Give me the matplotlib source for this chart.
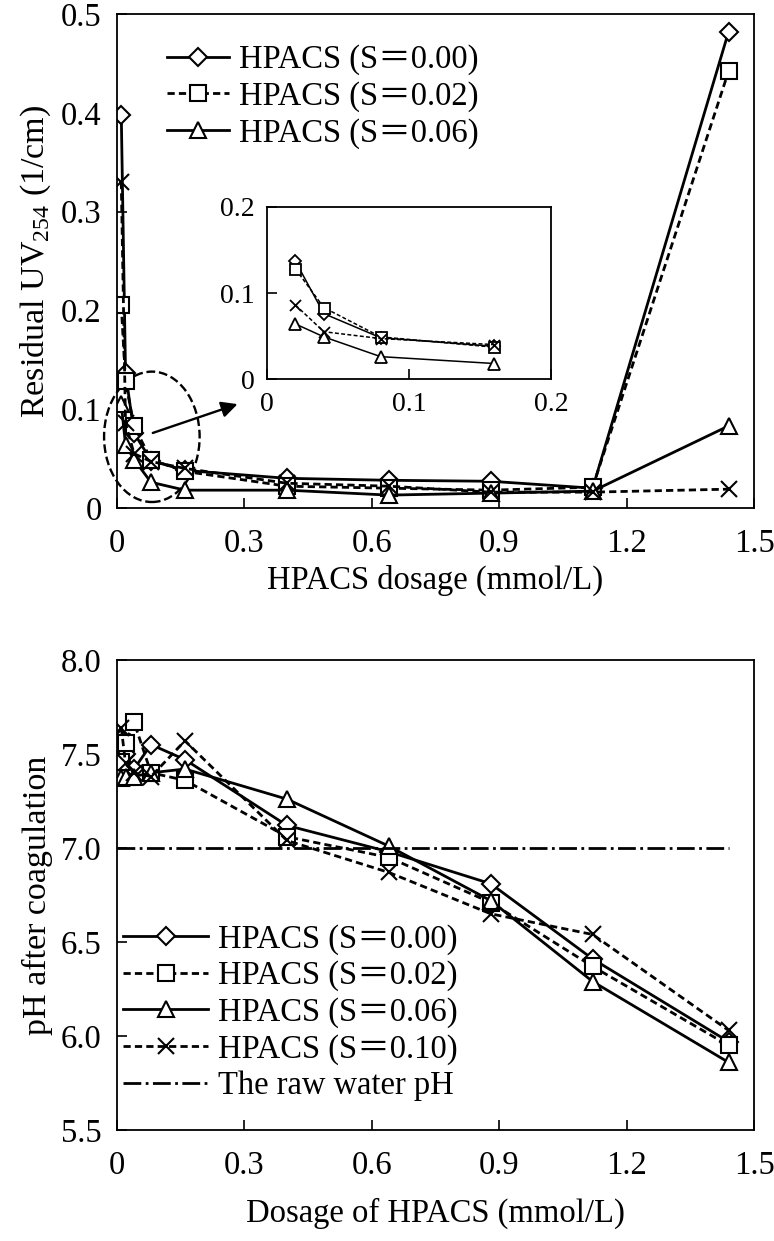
import matplotlib
matplotlib.use("Agg")
import matplotlib.pyplot as plt
from matplotlib.patches import Ellipse

# fonts: Times-like serif, CJK family only as fallback for the full-width "＝"
plt.rcParams['font.family'] = ['Liberation Serif', 'Noto Sans CJK JP']
plt.rcParams['mathtext.fontset'] = 'custom'
plt.rcParams['mathtext.rm'] = 'Liberation Serif'
plt.rcParams['font.size'] = 22

### data
dosage = [0.01, 0.02, 0.04, 0.08, 0.16, 0.40, 0.64, 0.88, 1.12, 1.44]  # mmol/L

# residual UV254 (1/cm)
uv_s000 = [0.398, 0.137, 0.076, 0.048, 0.038, 0.030, 0.028, 0.027, 0.020, 0.482]
uv_s002 = [0.205, 0.128, 0.083, 0.049, 0.037, 0.022, 0.020, 0.018, 0.021, 0.442]
uv_s006 = [0.105, 0.064, 0.049, 0.026, 0.018, 0.018, 0.013, 0.015, 0.017, 0.083]
uv_s010 = [0.330, 0.086, 0.055, 0.047, 0.040, 0.025, 0.022, 0.016, 0.016, 0.019]

# pH after coagulation
ph_s000 = [7.58, 7.50, 7.42, 7.55, 7.47, 7.12, 6.98, 6.81, 6.41, 5.97]
ph_s002 = [7.46, 7.56, 7.67, 7.40, 7.36, 7.06, 6.95, 6.71, 6.37, 5.95]
ph_s006 = [7.37, 7.38, 7.38, 7.40, 7.42, 7.26, 7.01, 6.72, 6.29, 5.86]
ph_s010 = [7.64, 7.45, 7.40, 7.38, 7.57, 7.04, 6.87, 6.65, 6.54, 6.03]
raw_x = [0.0, 1.44]
raw_ph = [7.0, 7.0]

labels = ["HPACS (S＝0.00)", "HPACS (S＝0.02)", "HPACS (S＝0.06)", "HPACS (S＝0.10)"]
raw_label = "The raw water pH"

x_ticks = [0, 0.3, 0.6, 0.9, 1.2, 1.5]
x_ticklabels = ["0", "0.3", "0.6", "0.9", "1.2", "1.5"]
uv_ticks = [0, 0.1, 0.2, 0.3, 0.4, 0.5]
uv_ticklabels = ["0", "0.1", "0.2", "0.3", "0.4", "0.5"]
ph_ticks = [5.5, 6.0, 6.5, 7.0, 7.5, 8.0]
ph_ticklabels = ["5.5", "6.0", "6.5", "7.0", "7.5", "8.0"]
inset_ticks = [0, 0.1, 0.2]
inset_ticklabels = ["0", "0.1", "0.2"]

### styles
dash = (2.6, 1.5)
styles = [dict(ls='-', marker='D', ms=9),
          dict(ls='--', dashes=dash, marker='s', ms=11),
          dict(ls='-', marker='^', ms=12),
          dict(ls='--', dashes=dash, marker='x', ms=11)]


def style_axes(ax, size=23.5, xpad=15, ypad=11):
    ax.tick_params(direction='in', length=7, width=1.2, labelsize=size,
                   top=False, right=False)
    ax.tick_params(axis='x', pad=xpad)
    ax.tick_params(axis='y', pad=ypad)
    for sp in ax.spines.values():
        sp.set_linewidth(1.3)


fig = plt.figure(figsize=(7.74, 12.41), dpi=100)

# ---------- top: residual UV254 ----------
ax1 = fig.add_axes([0.1512, 0.5907, 0.823, 0.398])
uv_all = [uv_s000, uv_s002, uv_s006, uv_s010]
for i, (yy, st) in enumerate(zip(uv_all, styles)):
    ax1.plot(dosage, yy, color='k', lw=2.0, mfc='white', mec='k', mew=1.5,
             label=labels[i] if i < 3 else None, **st)
ax1.set_xlim(0, 1.5)
ax1.set_ylim(0, 0.5)
ax1.set_xticks(x_ticks, x_ticklabels)
ax1.set_yticks(uv_ticks, uv_ticklabels)
style_axes(ax1)
ax1.set_xlabel("HPACS dosage (mmol/L)", fontsize=23.5, labelpad=4)
ax1.set_ylabel(r"Residual UV$_{\mathregular{254}}$ (1/cm)", fontsize=24.5, labelpad=6)
ax1.legend(loc='upper left', bbox_to_anchor=(0.074, 0.945), frameon=False,
           fontsize=23.5, handlelength=1.9, handletextpad=0.3, labelspacing=0.18,
           borderaxespad=0, borderpad=0.1)

# dashed ellipse around the low-dosage cluster and the arrow to the inset
ax1.add_patch(Ellipse((0.082, 0.072), 0.225, 0.132, fill=False, ls='--',
                      lw=1.7, ec='k', clip_on=False))
ax1.annotate('', xy=(0.29, 0.106), xytext=(0.078, 0.075),
             arrowprops=dict(arrowstyle='-|>', color='k', lw=1.7, mutation_scale=24))

# inset
axi = fig.add_axes([0.345, 0.6946, 0.367, 0.1386])
for yy, st in zip(uv_all, styles):
    st_i = dict(st)
    st_i['ms'] = st['ms'] * 0.72
    axi.plot(dosage[1:5], yy[1:5], color='k', lw=1.1, mfc='white', mec='k', mew=1.3, **st_i)
axi.set_xlim(0, 0.2)
axi.set_ylim(0, 0.2)
axi.set_xticks(inset_ticks, inset_ticklabels)
axi.set_yticks(inset_ticks, inset_ticklabels)
style_axes(axi, size=20, xpad=9, ypad=9)

# ---------- bottom: pH ----------
ax2 = fig.add_axes([0.1512, 0.0894, 0.823, 0.3788])
ph_all = [ph_s000, ph_s002, ph_s006, ph_s010]
for i, (yy, st) in enumerate(zip(ph_all, styles)):
    ax2.plot(dosage, yy, color='k', lw=2.0, mfc='white', mec='k', mew=1.5,
             label=labels[i], **st)
ax2.plot(raw_x, raw_ph, color='k', lw=2.0, ls='-.', label=raw_label)
ax2.set_xlim(0, 1.5)
ax2.set_ylim(5.5, 8.0)
ax2.set_xticks(x_ticks, x_ticklabels)
ax2.set_yticks(ph_ticks, ph_ticklabels)
style_axes(ax2)
ax2.set_xlabel("Dosage of HPACS (mmol/L)", fontsize=23.5, labelpad=12)
ax2.set_ylabel("pH after coagulation", fontsize=24.5, labelpad=6)
ax2.legend(loc='lower left', bbox_to_anchor=(0.005, 0.055), frameon=False,
           fontsize=23.5, handlelength=2.6, handletextpad=0.3, labelspacing=0.18,
           borderaxespad=0, borderpad=0.1)

fig.savefig("out.png", dpi=100)
